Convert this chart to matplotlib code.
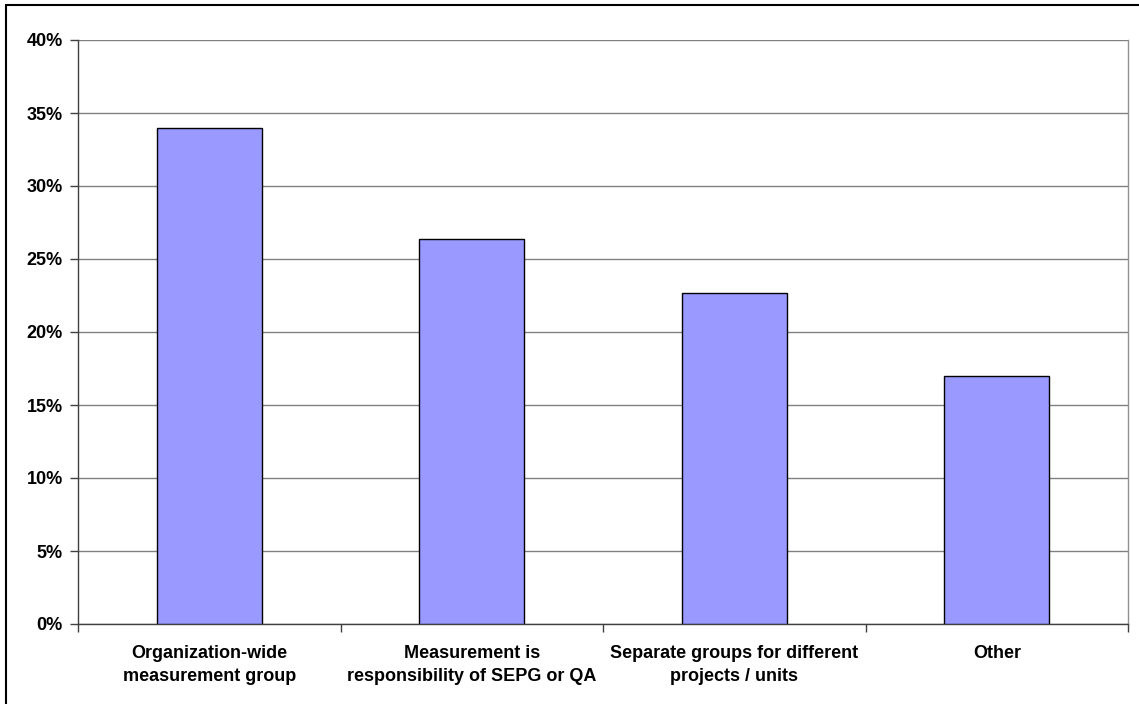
import matplotlib
matplotlib.use("Agg")
import matplotlib.pyplot as plt
from matplotlib.patches import Rectangle
from matplotlib.ticker import FuncFormatter, FixedLocator
import numpy as np

# Survey results: where measurement work is organised
categories = [
    "Organization-wide\nmeasurement group",
    "Measurement is\nresponsibility of SEPG or QA",
    "Separate groups for different\nprojects / units",
    "Other",
]
shares = [34.0, 26.4, 22.7, 17.0]
y_ticks = [0, 5, 10, 15, 20, 25, 30, 35, 40]

plt.rcParams["font.family"] = ["Liberation Sans", "DejaVu Sans"]
plt.rcParams["font.weight"] = "bold"

W, H = 1139, 704
fig = plt.figure(figsize=(W / 100, H / 100), dpi=100)
ax = fig.add_axes([78 / W, 1 - 624 / H, (1128 - 78) / W, (624 - 40) / H])

x = np.arange(len(categories))
ax.bar(x, shares, width=0.4, color="#9999FF", edgecolor="black", linewidth=1.0, zorder=3)

ax.set_xlim(-0.5, len(categories) - 0.5)
ax.set_ylim(0, 40)

# horizontal gridlines
ax.set_yticks(y_ticks)
ax.yaxis.set_major_formatter(FuncFormatter(lambda v, p: f"{v:.0f}%"))
ax.grid(axis="y", color="#808080", linewidth=1.0, zorder=0)

# category labels centred, tick marks between categories
ax.set_xticks(x)
ax.set_xticklabels(categories, fontsize=13, fontweight="bold", linespacing=1.45)
ax.tick_params(axis="x", length=0, pad=15)
ax.xaxis.set_minor_locator(FixedLocator(np.arange(-0.5, len(categories), 1.0)))
ax.tick_params(axis="x", which="minor", length=6, width=1, color="#404040", direction="out")
ax.tick_params(axis="y", length=6, width=1, color="#404040", labelsize=13, pad=5)
for lbl in ax.get_yticklabels():
    lbl.set_fontweight("bold")

ax.spines["top"].set_visible(False)
ax.spines["right"].set_color("#909090")
ax.spines["left"].set_color("#404040")
ax.spines["bottom"].set_color("#404040")
for s in ax.spines.values():
    s.set_linewidth(1.0)

# outer frame around the chart
fig.patches.append(Rectangle((6 / W, -0.05), 1.2, 1 - 5 / H + 0.05, transform=fig.transFigure,
                             fill=False, edgecolor="black", linewidth=1.5))

fig.savefig("out.png", dpi=100)
